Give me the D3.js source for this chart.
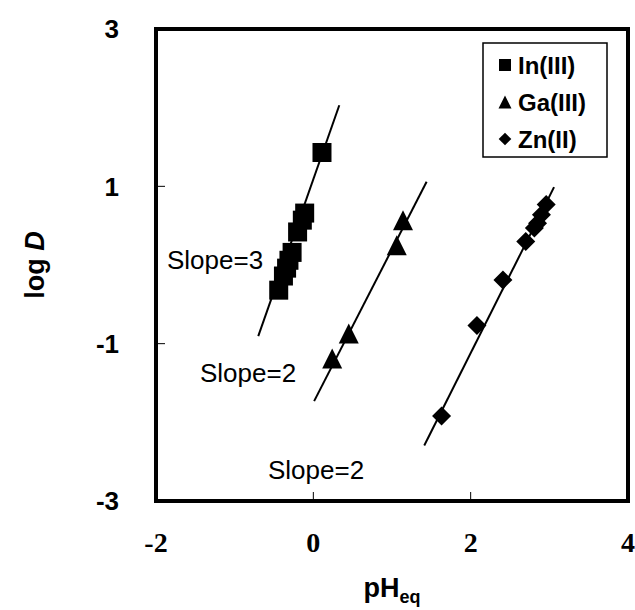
<!DOCTYPE html>
<html>
<head>
<meta charset="utf-8">
<script src="https://d3js.org/d3.v7.min.js"></script>
<style>
  body { margin:0; background:white; }
  .tick-y { font-family:"Liberation Sans", Arial, sans-serif; font-size:26px; font-weight:bold; }
  .tick-x { font-family:"Liberation Serif", "Times New Roman", serif; font-size:28px; font-weight:bold; }
  .title { font-family:"Liberation Sans", Arial, sans-serif; font-size:27px; font-weight:bold; }
  .slope { font-family:"Liberation Sans", Arial, sans-serif; font-size:26px; }
  .legend-label { font-family:"Liberation Sans", Arial, sans-serif; font-size:24px; font-weight:bold; }
</style>
</head>
<body>
<script>
// data (pH_eq, log D)
var inX = [0.11, -0.11, -0.14, -0.20, -0.27, -0.31, -0.34, -0.38, -0.44];
var inY = [1.43, 0.66, 0.57, 0.42, 0.16, 0.06, -0.04, -0.14, -0.32];
var gaX = [1.14, 1.06, 0.45, 0.24];
var gaY = [0.57, 0.25, -0.87, -1.19];
var znX = [2.96, 2.90, 2.85, 2.81, 2.70, 2.41, 2.08, 1.63];
var znY = [0.77, 0.64, 0.53, 0.47, 0.30, -0.19, -0.77, -1.92];

// fitted lines: slope, intercept, x range
var fitSlope = [2.85, 1.95, 1.99];
var fitIntercept = [1.09, -1.75, -5.10];
var fitFrom = [-0.70, 0.01, 1.41];
var fitTo = [0.33, 1.44, 3.06];

var seriesNames = ["In(III)", "Ga(III)", "Zn(II)"];
var slopeTexts = ["Slope=3", "Slope=2", "Slope=2"];
var xTicks = [-2, 0, 2, 4];
var yTicks = [-3, -1, 1, 3];

var width = 635, height = 610;
var svg = d3.select("body").append("svg").attr("width", width).attr("height", height);

var x = d3.scaleLinear().domain([-2, 4]).range([156, 628]);
var y = d3.scaleLinear().domain([-3, 3]).range([501, 29]);

// custom marker shapes
var triangle = { draw: function(ctx, size) {
  var s = Math.sqrt(size);
  ctx.moveTo(0, -s / 2); ctx.lineTo(s / 2, s / 2); ctx.lineTo(-s / 2, s / 2); ctx.closePath();
}};
var diamond = { draw: function(ctx, size) {
  var r = Math.sqrt(size) / 2;
  ctx.moveTo(0, -r); ctx.lineTo(r, 0); ctx.lineTo(0, r); ctx.lineTo(-r, 0); ctx.closePath();
}};
var shapes = [d3.symbolSquare, triangle, diamond];
var sizes = [361, 400, 361];
var legendSizes = [144, 170, 160];

// inner ticks
svg.append("g").selectAll("line").data(xTicks.slice(1, -1)).enter().append("line")
  .attr("x1", d => x(d)).attr("x2", d => x(d))
  .attr("y1", y(-3)).attr("y2", y(-3) - 9)
  .attr("stroke", "#000").attr("stroke-width", 1);
svg.append("g").selectAll("line").data(yTicks.slice(1, -1)).enter().append("line")
  .attr("x1", x(-2)).attr("x2", x(-2) + 9)
  .attr("y1", d => y(d)).attr("y2", d => y(d))
  .attr("stroke", "#000").attr("stroke-width", 1);

// tick labels
svg.append("g").selectAll("text").data(yTicks).enter().append("text")
  .classed("tick-y", true)
  .attr("x", 119).attr("y", d => y(d)).attr("dy", "0.36em")
  .attr("text-anchor", "end").text(d => d);
svg.append("g").selectAll("text").data(xTicks).enter().append("text")
  .classed("tick-x", true)
  .attr("x", d => x(d)).attr("y", 552)
  .attr("text-anchor", "middle").text(d => d);

// axis titles
var xt = svg.append("text").classed("title", true)
  .attr("x", 392).attr("y", 597).attr("text-anchor", "middle");
xt.append("tspan").text("pH");
xt.append("tspan").attr("font-size", "18px").attr("dy", 6).text("eq");

var yt = svg.append("text").classed("title", true)
  .attr("transform", "translate(44,265) rotate(-90)").attr("text-anchor", "middle");
yt.append("tspan").text("log ");
yt.append("tspan").attr("font-style", "italic").text("D");

// fit lines
var lines = fitSlope.map(function(s, i) {
  return [[fitFrom[i], s * fitFrom[i] + fitIntercept[i]], [fitTo[i], s * fitTo[i] + fitIntercept[i]]];
});
svg.append("g").selectAll("path").data(lines).enter().append("path")
  .attr("d", d3.line().x(d => x(d[0])).y(d => y(d[1])))
  .attr("fill", "none").attr("stroke", "#000").attr("stroke-width", 2);

// markers
var series = [[inX, inY], [gaX, gaY], [znX, znY]];
series.forEach(function(s, i) {
  var pts = s[0].map((v, j) => [v, s[1][j]]);
  svg.append("g").selectAll("path").data(pts).enter().append("path")
    .attr("d", d3.symbol().type(shapes[i]).size(sizes[i]))
    .attr("transform", d => "translate(" + x(d[0]) + "," + y(d[1]) + ")")
    .attr("fill", "#000");
});

// slope labels
var slopePos = [[167, 269], [200, 382], [268, 479]];
svg.append("g").selectAll("text").data(slopeTexts).enter().append("text")
  .classed("slope", true)
  .attr("x", (d, i) => slopePos[i][0]).attr("y", (d, i) => slopePos[i][1])
  .text(d => d);

// frame
svg.append("rect").attr("x", x(-2)).attr("y", y(3))
  .attr("width", x(4) - x(-2)).attr("height", y(-3) - y(3))
  .attr("fill", "none").attr("stroke", "#000").attr("stroke-width", 4);

// legend
var lg = svg.append("g").attr("transform", "translate(483,43)");
lg.append("rect").attr("width", 124).attr("height", 114)
  .attr("fill", "white").attr("stroke", "#000").attr("stroke-width", 1.5);
var item = lg.selectAll(".legends").data(seriesNames).enter().append("g")
  .classed("legends", true)
  .attr("transform", (d, i) => "translate(0," + (22 + i * 37) + ")");
item.append("path")
  .attr("d", (d, i) => d3.symbol().type(shapes[i]).size(legendSizes[i])())
  .attr("transform", "translate(22,0)").attr("fill", "#000");
item.append("text").classed("legend-label", true)
  .attr("x", 35).attr("y", 8.5).text(d => d);
</script>
</body>
</html>
